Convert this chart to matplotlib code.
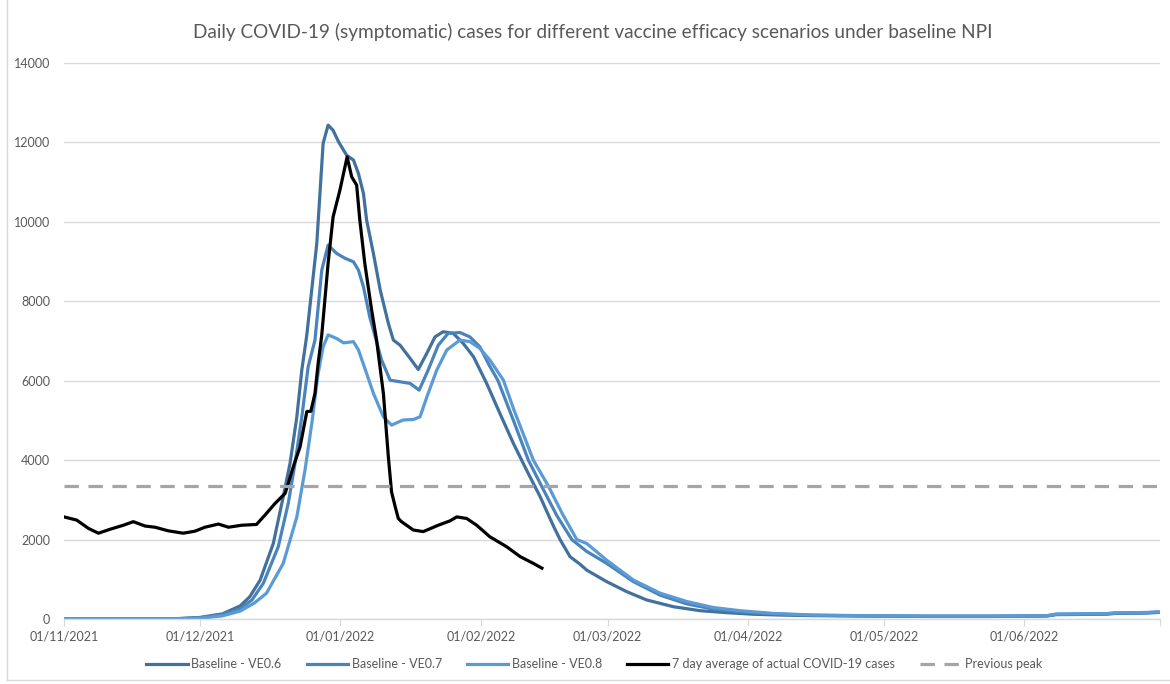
import pandas as pd
import matplotlib
matplotlib.use('Agg')
import matplotlib.pyplot as plt
from matplotlib.lines import Line2D

plt.rcParams['font.family'] = ['Lato', 'DejaVu Sans']

start = pd.Timestamp('2021-11-01')

# days since 01/11/2021
ve06_day = [0, 25, 30, 35, 38.9, 41.0, 43.3, 46.2, 48.4, 49.9, 51.4, 52.5, 53.6, 55.8, 57.2,
            58.3, 59.4, 60.6, 62.4, 63.9, 65.0, 66.1, 66.8, 68.3, 69.8, 71.6, 72.7, 74.2, 76.4,
            78.2, 80.1, 81.9, 83.7, 85.9, 88.1, 90.4, 93.3, 96.2, 99.2, 102.1, 105.1, 108.0,
            109.5, 111.7, 113.9, 115.4, 119.8, 124.2, 128.6, 134.5, 140.4, 146.3, 152.2, 158.1,
            165.3, 176, 190, 205, 217, 219, 230, 232, 239, 241.5]
ve06_val = [0, 10, 40, 130, 330, 560, 980, 1900, 3080, 3920, 5090, 6270, 7150, 9450, 11970,
            12430, 12300, 12010, 11670, 11550, 11210, 10710, 10040, 9200, 8280, 7440, 7020, 6890,
            6560, 6280, 6690, 7100, 7230, 7190, 6940, 6600, 5930, 5180, 4420, 3750, 3080, 2350,
            2000, 1570, 1380, 1230, 940, 690, 480, 310, 210, 160, 120, 100, 85, 75, 65, 65, 75,
            110, 120, 140, 150, 165]

ve07_day = [0, 25, 30, 35, 38.9, 41.5, 44.0, 47.3, 49.5, 51.0, 52.5, 53.9, 55.4, 56.9, 58.3,
            60.2, 62.0, 63.9, 65.0, 66.1, 67.5, 70.1, 72.0, 74.2, 76.4, 78.4, 80.4, 82.6, 84.8,
            87.4, 89.6, 91.8, 93.8, 95.8, 99.2, 102.5, 105.4, 108.8, 112.1, 115.4, 119.8, 125.7,
            131.6, 137.5, 143.3, 149.2, 156.6, 165.3, 176, 190, 205, 217, 219, 230, 232, 239,
            241.5]
ve07_val = [0, 8, 30, 110, 260, 480, 900, 1820, 2910, 3920, 5090, 6350, 7020, 8780, 9410,
            9200, 9080, 8990, 8780, 8360, 7600, 6520, 6010, 5970, 5930, 5760, 6270, 6890, 7190,
            7210, 7100, 6850, 6400, 6000, 5000, 4000, 3350, 2600, 2000, 1700, 1400, 940, 600,
            380, 250, 180, 130, 95, 80, 70, 70, 80, 120, 130, 150, 160, 175]

ve08_day = [0, 25, 30, 35, 38.9, 42.0, 44.7, 48.4, 51.4, 53.2, 54.7, 56.1, 57.2, 58.3, 60.2,
            61.7, 63.9, 65.0, 66.8, 68.3, 70.5, 72.3, 74.9, 77.1, 78.6, 80.1, 82.3, 84.5, 87.4,
            89.6, 91.8, 94.0, 97.0, 99.2, 101.4, 103.6, 106.9, 110.0, 113.2, 115.4, 119.8, 125.7,
            131.6, 137.5, 143.3, 149.2, 156.6, 165.4, 176, 190, 205, 217, 219, 230, 232, 239,
            241.5]
ve08_val = [0, 5, 20, 80, 200, 400, 650, 1400, 2570, 3750, 4920, 6180, 6850, 7150, 7060,
            6950, 6980, 6770, 6180, 5680, 5090, 4880, 5010, 5020, 5090, 5590, 6270, 6770, 7020,
            6980, 6810, 6520, 6010, 5300, 4650, 4000, 3350, 2650, 2000, 1900, 1480, 980, 650,
            440, 290, 210, 140, 100, 85, 75, 75, 85, 125, 135, 155, 165, 180]

actual_day = [0, 2.8, 5.4, 7.6, 10.2, 13.1, 15.3, 17.9, 20.1, 23.0, 26.3, 28.9, 31.1, 34.1,
              36.3, 39.2, 42.5, 44.4, 46.6, 48.8, 49.5, 50.6, 52.1, 53.6, 54.5, 55.4, 56.1,
              56.9, 58.3, 59.4, 60.9, 62.5, 63.5, 64.6, 65.3, 66.4, 67.9, 69.0, 70.5, 71.6,
              72.3, 73.1, 73.8, 74.5, 77.1, 79.3, 82.6, 85.2, 86.7, 88.9, 91.1, 94.0, 97.7,
              100.7, 103.6, 105.5]
actual_val = [2570, 2490, 2280, 2160, 2260, 2360, 2450, 2340, 2310, 2220, 2160, 2210, 2310,
              2390, 2310, 2360, 2380, 2620, 2910, 3160, 3410, 3830, 4330, 5220, 5230, 5680,
              6430, 7150, 8950, 10120, 10790, 11630, 11130, 10920, 10040, 8950, 7780, 7020,
              5680, 4080, 3200, 2830, 2530, 2450, 2240, 2200, 2360, 2470, 2570, 2530, 2360,
              2070, 1820, 1570, 1400, 1280]

previous_peak = 3350

series = [
    ('Baseline - VE0.6', ve06_day, ve06_val, '#41719c'),
    ('Baseline - VE0.7', ve07_day, ve07_val, '#4a84bd'),
    ('Baseline - VE0.8', ve08_day, ve08_val, '#5b9bd5'),
]


def to_dates(days):
    return start + pd.to_timedelta(days, unit='D')


fig = plt.figure(figsize=(11.7, 6.84), dpi=100)
ax = fig.add_axes([0.0547, 0.095, 0.937, 0.8133])

for label, d, v, c in series:
    ax.plot(to_dates(d), v, color=c, lw=2.3, label=label, solid_joinstyle='round')
ax.plot(to_dates(actual_day), actual_val, color='black', lw=2.3,
        label='7 day average of actual COVID-19 cases')
ax.axhline(previous_peak, color='#a5a5a5', lw=2.3, dashes=(4.5, 3), label='Previous peak')

ax.set_ylim(0, 14000)
ax.set_yticks(range(0, 14001, 2000))
ax.set_xlim(start, pd.Timestamp('2022-07-01'))
months = pd.date_range('2021-11-01', '2022-07-01', freq='MS')
ax.set_xticks(months)
ax.set_xticklabels([m.strftime('%d/%m/%Y') for m in months[:-1]] + [''])

ax.grid(axis='y', color='#d9d9d9', lw=1)
ax.set_axisbelow(True)
for s in ['top', 'right', 'left']:
    ax.spines[s].set_visible(False)
ax.spines['bottom'].set_color('#d9d9d9')
ax.spines['bottom'].set_linewidth(1)
ax.tick_params(axis='y', length=0, pad=10, labelsize=9, labelcolor='#595959')
ax.tick_params(axis='x', length=5, color='#d9d9d9', pad=3, labelsize=9, labelcolor='#595959')

fig.suptitle('Daily COVID-19 (symptomatic) cases for different vaccine efficacy scenarios under baseline NPI',
             x=0.507, y=0.966, fontsize=13.7, color='#595959')

fig.legend(loc='center', bbox_to_anchor=(0.508, 0.029), ncol=5, frameon=False, fontsize=9,
           handlelength=3.3, columnspacing=2.0, handletextpad=0.3, labelcolor='#595959')

# light outer border of the chart area
fig.add_artist(Line2D([0.006, 0.006], [0.006, 1.0], color='#d9d9d9', lw=1))
fig.add_artist(Line2D([0.006, 1.0], [0.006, 0.006], color='#d9d9d9', lw=1))

fig.savefig('out.png', dpi=100)
